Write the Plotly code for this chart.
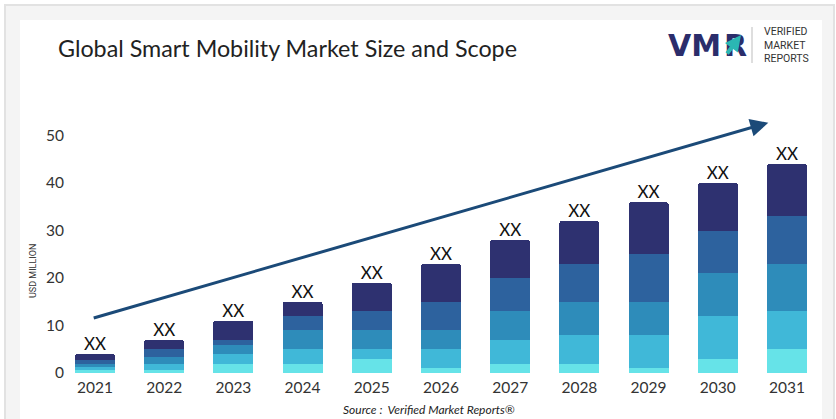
import plotly.graph_objects as go

years = [2021, 2022, 2023, 2024, 2025, 2026, 2027, 2028, 2029, 2030, 2031]
seg1 = [0.6, 0.7, 2, 2, 3, 1, 2, 2, 1, 3, 5]
seg2 = [0.7, 1.3, 2, 3, 2, 4, 5, 6, 7, 9, 8]
seg3 = [0.7, 1.4, 2, 4, 4, 4, 6, 7, 7, 9, 10]
seg4 = [0.8, 1.7, 1, 3, 4, 6, 7, 8, 10, 9, 10]
seg5 = [1.2, 1.9, 4, 3, 6, 8, 8, 9, 11, 10, 11]
bar_labels = ["XX"] * 11
colors = ["#66e3e8", "#40b8d8", "#2e8cba", "#2d629e", "#2e3170"]
yticks = [0, 10, 20, 30, 40, 50]
arrow_tail = (2020.96, 11.5)
arrow_tip = (2030.73, 52.7)

W, H = 836, 419
ml, mr, mt, mb = 70, 14, 107, 46
pw, ph = W - ml - mr, H - mt - mb

def px(x):
    return (x - ml) / pw

def py(y):
    return 1 - (y - mt) / ph

totals = [a + b + c + d + e for a, b, c, d, e in zip(seg1, seg2, seg3, seg4, seg5)]

fig = go.Figure()
for s, c in zip([seg1, seg2, seg3, seg4, seg5], colors):
    fig.add_trace(go.Bar(x=years, y=s, marker=dict(color=c, line=dict(width=0)),
                         width=0.58, hoverinfo="skip", showlegend=False))

fig.add_trace(go.Scatter(x=years, y=totals, mode="text", text=bar_labels,
                         textposition="top center",
                         textfont=dict(family="Lato", size=17, color="#111111"),
                         showlegend=False, hoverinfo="skip"))

shapes = [
    dict(type="rect", xref="paper", yref="paper", x0=px(5), x1=px(834), y0=py(5), y1=py(425),
         fillcolor="#f4f4f4", line=dict(color="#e2e2e2", width=2), layer="below"),
    dict(type="rect", xref="paper", yref="paper", x0=px(20), x1=px(822), y0=py(20), y1=py(425),
         fillcolor="#ffffff", line=dict(width=0), layer="below"),
    dict(type="line", xref="paper", yref="paper", x0=px(752), x1=px(752), y0=py(27), y1=py(63),
         line=dict(color="#bdbdbd", width=1)),
]

annotations = [
    dict(text="Global Smart Mobility Market Size and Scope", xref="paper", yref="paper",
         x=px(56), y=py(48), xanchor="left", yanchor="middle", showarrow=False,
         font=dict(family="Lato", size=23.3, color="#222222")),
    dict(text="<b>VM</b>", xref="paper", yref="paper", x=px(666), y=py(46),
         xanchor="left", yanchor="middle", showarrow=False,
         font=dict(family="DejaVu Sans", size=30, color="#2b2d6b")),
    dict(text="<b>R</b>", xref="paper", yref="paper", x=px(722), y=py(46),
         xanchor="left", yanchor="middle", showarrow=False,
         font=dict(family="DejaVu Sans", size=30, color="#2b2d6b")),
    dict(text="", xref="paper", yref="paper", x=px(741), y=py(35), ax=-15, ay=20,
         axref="pixel", ayref="pixel", showarrow=True, arrowhead=2, arrowsize=0.8,
         arrowwidth=4, arrowcolor="#2bb7b3"),
    dict(text="VERIFIED<br>MARKET<br>REPORTS", xref="paper", yref="paper", x=px(762), y=py(45),
         xanchor="left", yanchor="middle", align="left", showarrow=False,
         font=dict(family="Roboto", size=10.5, color="#333333")),
    dict(text="USD MILLION", xref="paper", yref="paper", x=px(33), y=py(271),
         textangle=-90, showarrow=False, xanchor="center", yanchor="middle",
         font=dict(family="Roboto", size=9, color="#333333")),
    dict(text="<i>Source :  Verified Market Reports®</i>", xref="paper", yref="paper",
         x=px(429), y=py(409), showarrow=False, xanchor="center", yanchor="middle",
         font=dict(family="Lato", size=12, color="#222222")),
    dict(text="", x=arrow_tip[0], y=arrow_tip[1], ax=arrow_tail[0], ay=arrow_tail[1],
         xref="x", yref="y", axref="x", ayref="y", showarrow=True, arrowhead=2,
         arrowsize=1.2, arrowwidth=3, arrowcolor="#1b4a78"),
]

fig.update_layout(
    width=W, height=H, margin=dict(l=ml, r=mr, t=mt, b=mb),
    barmode="stack", barcornerradius=3,
    paper_bgcolor="#ffffff", plot_bgcolor="rgba(0,0,0,0)",
    shapes=shapes, annotations=annotations,
    xaxis=dict(range=[2021 - 0.361, 2031 + 0.506], tickvals=years, ticktext=[str(y) for y in years],
               showgrid=False, zeroline=False, showline=False, ticks="", ticklabelstandoff=3,
               tickfont=dict(family="Lato", size=15.5, color="#333333")),
    yaxis=dict(range=[0, 56], tickvals=yticks, showgrid=False, zeroline=False, showline=False,
               ticks="", ticklabelstandoff=5,
               tickfont=dict(family="Lato", size=15.5, color="#333333")),
)

fig.write_html("out.html")
